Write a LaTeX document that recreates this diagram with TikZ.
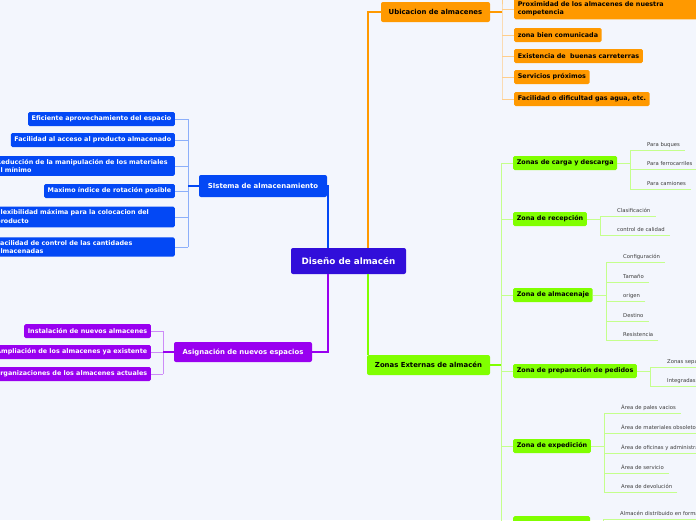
\documentclass[tikz,border=0pt]{standalone}
\usepackage{fontspec}
\setmainfont{DejaVu Sans}
\usepackage{tikz}
\definecolor{fondo}{RGB}{243,246,253}
\definecolor{raiz}{RGB}{49,14,218}
\definecolor{azul}{RGB}{3,72,245}
\definecolor{azulc}{RGB}{140,175,250}
\definecolor{morado}{RGB}{153,0,240}
\definecolor{moradoc}{RGB}{205,140,248}
\definecolor{naranja}{RGB}{255,153,0}
\definecolor{naranjac}{RGB}{255,206,140}
\definecolor{verde}{RGB}{128,255,0}
\definecolor{verdec}{RGB}{196,255,140}
\definecolor{gris}{RGB}{60,60,60}

\begin{document}
\begin{tikzpicture}[x=1pt,y=-1pt,
  raizbox/.style={fill=raiz,text=white,rounded corners=2pt,minimum width=115pt,minimum height=26pt,font=\fontsize{8.8}{10}\selectfont\bfseries},
  rama/.style={rounded corners=2pt,minimum height=20pt,inner sep=0pt,font=\fontsize{6.9}{8}\selectfont\bfseries},
  hoja/.style={rounded corners=1.5pt,inner xsep=3.6pt,inner ysep=3pt,minimum height=14pt,align=left,font=\fontsize{6.4}{8.4}\selectfont\bfseries},
  simple/.style={},
  doble/.style={text width=175pt},
  ancha/.style={text width=178pt},
  nota/.style={anchor=south west,inner xsep=5pt,inner ysep=2.5pt,text height=4.2pt,text depth=1.2pt,text=gris,font=\fontsize{5.3}{6}\selectfont},
  fina/.style={line width=0.9pt},
  gruesa/.style={line width=1.6pt}]
\useasboundingbox (0,0) rectangle (696,520);
\fill[fondo] (0,0) rectangle (696,520);

% centro y ramas principales
\node[raizbox] (root) at (348.5,261) {Diseño de almacén};
\node[rama,fill=azul,text=white,minimum width=128pt,minimum height=22pt] (sis) at (263,186) {SIstema de almacenamiento};
\node[rama,fill=morado,text=white,minimum width=138pt] (asig) at (243,352) {Asignación de nuevos espacios};
\node[rama,fill=naranja,minimum width=109pt] (ubic) at (435.5,12) {Ubicacion de almacenes};
\node[rama,fill=verde,minimum width=123pt] (zext) at (428.5,365) {Zonas Externas de almacén};
\draw[azul,gruesa] (sis.east) -| ([xshift=-20.5pt]root.north);
\draw[morado,gruesa] (asig.east) -| ([xshift=-20.5pt]root.south);
\draw[naranja,gruesa] (ubic.west) -| ([xshift=19.5pt]root.north);
\draw[verde,gruesa] ([xshift=19.5pt]root.south) -- ([xshift=19.5pt]root.south |- zext.north);

% sistema de almacenamiento
\foreach \y/\o/\t [count=\i] in {119/simple/Eficiente aprovechamiento del espacio, 140/simple/Facilidad al acceso al producto almacenado, 166/doble/{Reducción de la manipulación de los materiales\\al mínimo}, 191/simple/Maximo índice de rotación posible, 217/doble/{Flexibilidad máxima para la colocacion del\\producto}, 247/doble/{Facilidad de control de las cantidades\\almacenadas}}{
\node[hoja,\o,fill=azul,text=white,anchor=east] (az\i) at (175,\y) {\t};
\draw[azulc,fina] (az\i.east) -- ++(13,0) coordinate (azb\i);
}
\draw[azulc,fina] (azb1) -- (azb6);
\draw[azul,gruesa] (sis.west) -- (sis.west -| azb1);

% asignacion de nuevos espacios
\foreach \y/\t [count=\i] in {331/Instalación de nuevos almacenes, 352/Ampliación de los almacenes ya existente, 374/Reorganizaciones de los almacenes actuales}{
\node[hoja,fill=morado,text=white,anchor=east] (mo\i) at (151,\y) {\t};
\draw[moradoc,fina] (mo\i.east) -- ++(12,0) coordinate (mob\i);
}
\draw[moradoc,fina] (mob1) -- (mob3);
\draw[morado,gruesa] (asig.west) -- (asig.west -| mob1);

% ubicacion
\foreach \y/\o/\t [count=\i] in {9/ancha/{Proximidad de los almacenes de nuestra\\competencia}, 35/simple/zona bien comunicada, 56/simple/Existencia de~ buenas carreterras, 77/simple/Servicios próximos, 99/simple/{Facilidad o dificultad gas agua, etc.}}{
\node[hoja,\o,fill=naranja,anchor=west] (na\i) at (514,\y) {\t};
\draw[naranjac,fina] (na\i.west) -- ++(-12,0) coordinate (nab\i);
}
\draw[naranjac,fina] (nab5) -- (nab1) -- ++(0,-10);
\draw[naranja,gruesa] (ubic.east) -- (ubic.east -| nab1);

% zonas externas
\foreach \y/\t [count=\i] in {163/Zonas de carga y descarga, 219/Zona de recepción, 295/Zona de almacenaje, 371/Zona de preparación de pedidos, 446/Zona de expedición}{
\node[hoja,fill=verde,anchor=west] (ve\i) at (513,\y) {\t};
\draw[verdec,fina] (ve\i.west) -- ++(-12,0) coordinate (veb\i);
}
\node[hoja,fill=verde,anchor=north west,minimum width=77pt] (ve6) at (513,516) {};
\draw[verdec,fina] (ve6.west) -- ++(-12,0) coordinate (veb6);
\draw[verdec,fina] (veb1) -- (veb6);
\draw[verde,gruesa] (zext.east) -- (zext.east -| veb1);

\coordinate (carb) at (630,169);
\foreach \y/\t [count=\i] in {150/Para buques, 169/Para ferrocarriles, 189/Para camiones}{
\node[nota] (car\i) at (642,\y) {\t};
\draw[verdec,fina] (car\i.south east) -- (car\i.south west -| carb);
}
\draw[verdec,fina] (car1.south west -| carb) -- (car3.south west -| carb);
\draw[verdec,fina] (ve1.east) -- (ve1.east -| carb);

\coordinate (recb) at (600,219);
\foreach \y/\t [count=\i] in {216/Clasificación, 235/control de calidad}{
\node[nota] (rec\i) at (612,\y) {\t};
\draw[verdec,fina] (rec\i.south east) -- (rec\i.south west -| recb);
}
\draw[verdec,fina] (rec1.south west -| recb) -- (rec2.south west -| recb);
\draw[verdec,fina] (ve2.east) -- (ve2.east -| recb);

\coordinate (almb) at (606,295);
\foreach \y/\t [count=\i] in {262/Configuración, 282/Tamaño, 301/origen, 321/Destino, 340/Resistencia}{
\node[nota] (alm\i) at (618,\y) {\t};
\draw[verdec,fina] (alm\i.south east) -- (alm\i.south west -| almb);
}
\draw[verdec,fina] (alm1.south west -| almb) -- (alm5.south west -| almb);
\draw[verdec,fina] (ve3.east) -- (ve3.east -| almb);

\coordinate (preb) at (650,371);
\foreach \y/\t [count=\i] in {367/Zonas separadas, 386/Integradas}{
\node[nota] (pre\i) at (662,\y) {\t};
\draw[verdec,fina] (pre\i.south east) -- (pre\i.south west -| preb);
}
\draw[verdec,fina] (pre1.south west -| preb) -- (pre2.south west -| preb);
\draw[verdec,fina] (ve4.east) -- (ve4.east -| preb);

\coordinate (expb) at (604,446);
\foreach \y/\t [count=\i] in {413/Área de pales vacios, 433/Área de materiales obsoletos, 453/Área de oficinas y administración, 473/Área de servicio, 492/Area de devolución}{
\node[nota] (exp\i) at (616,\y) {\t};
\draw[verdec,fina] (exp\i.south east) -- (exp\i.south west -| expb);
}
\draw[verdec,fina] (exp1.south west -| expb) -- (exp5.south west -| expb);
\draw[verdec,fina] (ve5.east) -- (ve5.east -| expb);

\coordinate (disb) at (603,523);
\node[nota] (dis1) at (615,519) {Almacén distribuido en forma};
\draw[verdec,fina] (dis1.south east) -- (dis1.south west -| disb) -- (disb);
\draw[verdec,fina] (ve6.east) -- (ve6.east -| disb);
\end{tikzpicture}
\end{document}
